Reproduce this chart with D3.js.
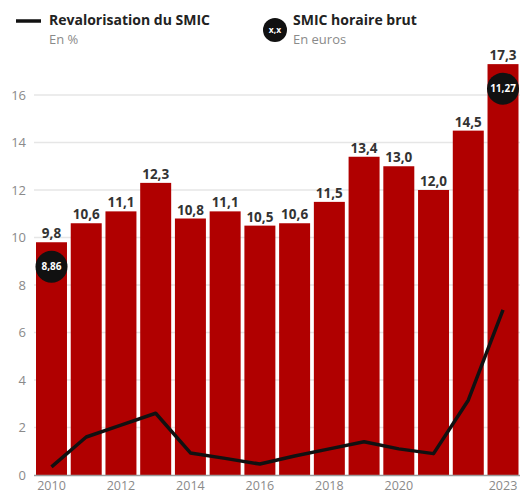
<!DOCTYPE html>
<html><head><meta charset="utf-8">
<script src="https://cdn.jsdelivr.net/npm/d3@7"></script>
<style>body{margin:0;background:#fff;}svg{display:block;font-family:"Open Sans",Roboto,sans-serif;}</style>
</head><body>
<svg id="c" width="520" height="495"></svg>
<script>
const years = [2010,2011,2012,2013,2014,2015,2016,2017,2018,2019,2020,2021,2022,2023];
const barValues = [9.8,10.6,11.1,12.3,10.8,11.1,10.5,10.6,11.5,13.4,13.0,12.0,14.5,17.3];
const revalorisation = [0.34,1.6,2.1,2.6,0.93,0.7,0.46,0.8,1.1,1.4,1.1,0.9,3.15,6.95];
const smicLabels = [{year:2010, label:"8,86"},{year:2023, label:"11,27"}];
const yTicks = [0,2,4,6,8,10,12,14,16];
const xTickYears = [2010,2012,2014,2016,2018,2020,2023];
const fmt = v => d3.format(".1f")(v).replace(".", ",");
const FONT = '"Open Sans",Roboto,sans-serif';

const svg = d3.select("#c");
const x = d3.scaleBand().domain(years).range([36,518.5]).paddingInner(0.108).paddingOuter(0);
const y = d3.scaleLinear().domain([0,16]).range([475,95]);

// grid
svg.append("g").selectAll("line").data(yTicks.filter(d=>d>0)).join("line")
  .attr("x1",34).attr("x2",520).attr("y1",d=>y(d)).attr("y2",d=>y(d))
  .attr("stroke","#e6e6e6").attr("stroke-width",1.5);

// y axis labels
const yAxis = d3.axisLeft(y).tickValues(yTicks).tickSize(0).tickPadding(0).tickFormat(d3.format("d"));
const ga = svg.append("g").attr("transform","translate(26,0)").call(yAxis);
ga.select(".domain").remove();
ga.selectAll("text").attr("fill","#8a8a8a").style("font-size","13px").style("font-family",FONT);

// bars
svg.append("g").selectAll("rect").data(years).join("rect")
  .attr("x",d=>x(d)).attr("width",x.bandwidth())
  .attr("y",(d,i)=>y(barValues[i])).attr("height",(d,i)=>y(0)-y(barValues[i]))
  .attr("fill","#b00000");

// baseline
svg.append("line").attr("x1",34).attr("x2",520).attr("y1",y(0)+0.5).attr("y2",y(0)+0.5)
  .attr("stroke","#9a9a9a").attr("stroke-width",1.5);

// bar labels
svg.append("g").selectAll("text").data(years).join("text")
  .attr("x",d=>x(d)+x.bandwidth()/2).attr("y",(d,i)=>y(barValues[i])-4)
  .attr("text-anchor","middle").attr("fill","#333").style("font-size","13.5px").style("font-weight","700")
  .text((d,i)=>fmt(barValues[i]));

// line
const line = d3.line().x((d,i)=>x(years[i])+x.bandwidth()/2).y(d=>y(d));
svg.append("path").datum(revalorisation).attr("d",line)
  .attr("fill","none").attr("stroke","#111").attr("stroke-width",3.5).attr("stroke-linejoin","round");

// SMIC circles
const gc = svg.append("g").selectAll("g").data(smicLabels).join("g")
  .attr("transform",d=>`translate(${x(d.year)+x.bandwidth()/2},${y(barValues[years.indexOf(d.year)])+24.5})`);
gc.append("circle").attr("r",16).attr("fill","#111");
gc.append("text").attr("text-anchor","middle").attr("dy","0.35em").attr("fill","#fff")
  .style("font-size","10px").style("font-weight","700").text(d=>d.label);

// x axis labels
const xAxis = d3.axisBottom(x).tickValues(xTickYears).tickSize(0).tickPadding(0);
const gx = svg.append("g").attr("transform","translate(0,481)").call(xAxis);
gx.select(".domain").remove();
gx.selectAll("text").attr("fill","#8a8a8a").style("font-size","12.5px").style("font-family",FONT);

// legend
const lg = svg.append("g");
lg.append("line").attr("x1",16).attr("x2",41).attr("y1",21).attr("y2",21).attr("stroke","#111").attr("stroke-width",3.5);
lg.append("text").attr("x",49).attr("y",25).attr("fill","#222").style("font-size","14px").style("font-weight","700").text("Revalorisation du SMIC");
lg.append("text").attr("x",49).attr("y",44).attr("fill","#8a8a8a").style("font-size","13px").text("En %");
lg.append("circle").attr("cx",275).attr("cy",30).attr("r",12).attr("fill","#111");
lg.append("text").attr("x",275).attr("y",30).attr("dy","0.35em").attr("text-anchor","middle").attr("fill","#fff").style("font-size","8.5px").style("font-weight","700").text("x,x");
lg.append("text").attr("x",293).attr("y",25).attr("fill","#222").style("font-size","14px").style("font-weight","700").text("SMIC horaire brut");
lg.append("text").attr("x",293).attr("y",44).attr("fill","#8a8a8a").style("font-size","13px").text("En euros");
</script>
</body></html>
